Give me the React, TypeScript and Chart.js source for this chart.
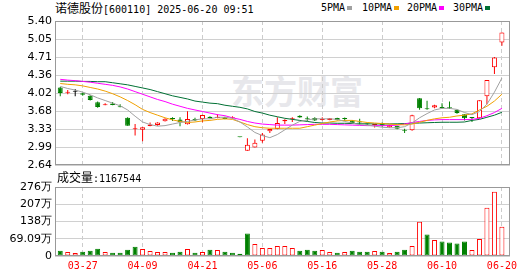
import React, { useEffect, useRef } from "react";
import { Chart, registerables } from "chart.js";

Chart.register(...registerables);

const DATES = [
  "03-24","03-25","03-26","03-27","03-28","03-31","04-01","04-02","04-03","04-07",
  "04-08","04-09","04-10","04-11","04-14","04-15","04-16","04-17","04-18","04-21",
  "04-22","04-23","04-24","04-25","04-28","04-29","04-30","05-06","05-07","05-08",
  "05-09","05-12","05-13","05-14","05-15","05-16","05-19","05-20","05-21","05-22",
  "05-23","05-26","05-27","05-28","05-29","05-30","06-03","06-04","06-05","06-06",
  "06-09","06-10","06-11","06-12","06-13","06-16","06-17","06-18","06-19","06-20",
];
const TICK_DATES = ["03-27","04-09","04-21","05-06","05-16","05-28","06-10","06-20"];

const OPEN = [
  4.13,4.03,4.05,4.02,3.97,3.845,3.79,3.825,3.77,3.55,
  3.33,3.32,3.395,3.41,3.484,3.53,3.515,3.426,3.528,3.528,
  3.572,3.547,3.56,3.541,3.185,2.918,2.982,3.109,3.293,3.337,
  3.485,3.52,3.59,3.525,3.545,3.51,3.51,3.545,3.53,3.50,
  3.48,3.44,3.41,3.45,3.37,3.40,3.31,3.31,3.923,3.725,
  3.745,3.745,3.74,3.706,3.618,3.55,3.542,3.96,4.514,4.99,
];
const HIGH = [
  4.14,4.08,4.10,4.03,3.98,3.86,3.83,3.85,3.81,3.56,
  3.43,3.37,3.46,3.465,3.54,3.56,3.56,3.674,3.55,3.61,
  3.58,3.62,3.57,3.58,3.185,3.16,3.134,3.261,3.337,3.56,
  3.52,3.56,3.60,3.575,3.56,3.56,3.545,3.55,3.555,3.51,
  3.53,3.445,3.42,3.46,3.415,3.40,3.34,3.61,3.93,3.877,
  3.80,3.83,3.86,3.71,3.62,3.56,3.884,4.27,4.71,5.18,
];
const LOW = [
  3.96,4.00,3.96,3.97,3.88,3.74,3.79,3.79,3.75,3.40,
  3.21,3.10,3.39,3.40,3.48,3.49,3.39,3.42,3.49,3.465,
  3.535,3.54,3.52,3.53,3.18,2.918,2.98,3.071,3.261,3.33,
  3.43,3.47,3.55,3.49,3.49,3.50,3.505,3.50,3.49,3.44,
  3.41,3.41,3.365,3.38,3.36,3.33,3.26,3.30,3.706,3.706,
  3.73,3.73,3.72,3.625,3.50,3.47,3.53,3.81,4.386,4.925,
];
const CLOSE = [
  4.025,4.04,4.05,3.99,3.89,3.755,3.81,3.795,3.75,3.40,
  3.34,3.37,3.42,3.458,3.534,3.525,3.47,3.528,3.50,3.604,
  3.541,3.572,3.528,3.56,3.18,3.033,3.071,3.23,3.337,3.45,
  3.51,3.53,3.555,3.52,3.50,3.515,3.54,3.51,3.525,3.445,
  3.46,3.42,3.415,3.40,3.41,3.34,3.30,3.60,3.732,3.715,
  3.79,3.735,3.73,3.643,3.542,3.545,3.884,4.27,4.704,5.18,
];

const MA5 = [
  4.15,4.11,4.08,4.04,3.99,3.93,3.88,3.83,3.78,3.70,
  3.58,3.47,3.42,3.39,3.40,3.43,3.46,3.48,3.51,3.53,
  3.53,3.56,3.56,3.54,3.47,3.375,3.27,3.21,3.17,3.23,
  3.32,3.41,3.48,3.51,3.53,3.53,3.53,3.52,3.48,3.45,
  3.42,3.41,3.39,3.37,3.36,3.36,3.38,3.45,3.55,3.63,
  3.70,3.73,3.73,3.71,3.65,3.61,3.67,3.81,4.04,4.31,
];
const MA10 = [
  4.205,4.19,4.18,4.16,4.13,4.10,4.06,4.01,3.95,3.88,
  3.80,3.71,3.65,3.60,3.55,3.51,3.48,3.46,3.47,3.49,
  3.50,3.52,3.53,3.52,3.47,3.42,3.38,3.36,3.35,3.35,
  3.35,3.35,3.35,3.38,3.41,3.44,3.47,3.49,3.50,3.50,
  3.48,3.46,3.45,3.44,3.43,3.42,3.415,3.43,3.465,3.50,
  3.53,3.55,3.56,3.585,3.60,3.625,3.70,3.77,3.87,4.00,
];
const MA20 = [
  4.285,4.27,4.26,4.245,4.23,4.21,4.19,4.17,4.14,4.10,
  4.05,4.00,3.95,3.90,3.86,3.81,3.77,3.73,3.70,3.67,
  3.64,3.61,3.59,3.55,3.52,3.48,3.45,3.43,3.42,3.41,
  3.41,3.41,3.415,3.42,3.425,3.425,3.425,3.42,3.415,3.41,
  3.405,3.40,3.40,3.40,3.40,3.41,3.43,3.46,3.48,3.50,
  3.51,3.515,3.515,3.515,3.515,3.52,3.54,3.59,3.65,3.73,
];
const MA30 = [
  4.25,4.25,4.25,4.245,4.245,4.24,4.24,4.22,4.20,4.18,
  4.15,4.12,4.09,4.05,4.01,3.97,3.94,3.91,3.87,3.85,
  3.83,3.82,3.79,3.77,3.75,3.72,3.67,3.64,3.60,3.57,
  3.54,3.52,3.50,3.48,3.46,3.45,3.45,3.445,3.445,3.44,
  3.435,3.435,3.433,3.433,3.433,3.435,3.44,3.446,3.45,3.455,
  3.46,3.465,3.465,3.465,3.47,3.50,3.52,3.56,3.60,3.655,
];

// volume in 万
const VOLUME = [
  21.4,16,12,17.4,21.4,29.5,16,13.4,13.4,25.5,
  37.5,28,20,16,16,13.4,17.4,28,13.4,16,
  25.5,24,17.4,13.4,9.4,89.8,48,32,32,40,
  40,32,21.4,25.5,21.4,24,16,13.4,16,21.4,
  17.4,17.4,20,17.4,12,17.4,25.5,40,136.7,85.7,
  64.3,57.6,53.6,49.6,57.6,24,68.3,193,257,116.7544,
];
// 1 = red (up vs previous close), 0 = green
const VOLUME_UP = [
  0,1,1,0,0,0,1,0,0,0,
  0,1,1,1,1,0,0,1,0,1,
  0,1,0,0,0,0,1,1,1,1,
  1,1,0,0,0,1,1,0,1,0,
  0,0,1,0,1,0,0,1,1,0,
  1,0,0,0,0,1,1,1,1,1,
];

const PRICE_TICKS = ["2.64","2.99","3.33","3.68","4.02","4.36","4.71","5.05","5.40"];
const PRICE_MIN = 2.64;
const PRICE_MAX = 5.40;
const VOLUME_TICKS = ["0","69.09万","138万","207万","276万"];
const VOLUME_MAX = 276.36;

const RED = "#ff0000";
const GREEN = "#008000";
const MA_COLORS = { ma5: "#a0a0a0", ma10: "#f0a000", ma20: "#ff00ff", ma30: "#007034" };

const X_MIN = -0.7;
const X_MAX = 60.08;

const framePlugin = {
  id: "frame",
  afterDraw(chart: any) {
    const { ctx, chartArea } = chart;
    const l = Math.round(chartArea.left), t = Math.round(chartArea.top);
    const r = Math.round(chartArea.right), b = Math.round(chartArea.bottom);
    ctx.save();
    ctx.strokeStyle = "#999999";
    ctx.lineWidth = 1;
    ctx.strokeRect(l + 0.5, t + 0.5, r - l - 1, b - t - 1);
    ctx.restore();
  },
};

export default function App() {
  const mainRef = useRef<HTMLCanvasElement>(null);
  const volRef = useRef<HTMLCanvasElement>(null);

  useEffect(() => {
    const tickIdx = TICK_DATES.map((d) => DATES.indexOf(d));
    const candleColor = (i: number) =>
      CLOSE[i] > OPEN[i] ? RED : CLOSE[i] < OPEN[i] ? GREEN : "#000000";
    const candleFill = (i: number) =>
      CLOSE[i] > OPEN[i] ? "#ffffff" : CLOSE[i] < OPEN[i] ? GREEN : "#000000";

    const xScale = (showLabels: boolean) => ({
      type: "linear",
      min: X_MIN,
      max: X_MAX,
      offset: false,
      afterBuildTicks: (s: any) => {
        s.ticks = tickIdx.map((v) => ({ value: v }));
      },
      afterFit: (s: any) => {
        s.height = showLabels ? 20 : 0;
      },
      ticks: {
        display: showLabels,
        autoSkip: false,
        maxRotation: 0,
        padding: 4,
        color: RED,
        font: { family: "DejaVu Sans Mono", size: 10 },
        callback: (v: number) => DATES[v] ?? "",
      },
      grid: { color: "#cccccc", drawTicks: false, offset: false },
      border: { display: false, dash: [4, 3] },
    });

    const maLine = (data: number[], color: string) => ({
      type: "line",
      data: data.map((v, i) => ({ x: i, y: v })),
      borderColor: color,
      borderWidth: 1,
      pointRadius: 0,
      tension: 0,
      fill: false,
      order: 0,
    });

    const main = new Chart(mainRef.current as HTMLCanvasElement, {
      type: "bar",
      data: {
        datasets: [
          maLine(MA5, MA_COLORS.ma5),
          maLine(MA10, MA_COLORS.ma10),
          maLine(MA20, MA_COLORS.ma20),
          maLine(MA30, MA_COLORS.ma30),
          {
            type: "bar",
            data: OPEN.map((o, i) => ({ x: i, y: [Math.min(o, CLOSE[i]), Math.max(o, CLOSE[i])] })),
            backgroundColor: OPEN.map((_, i) => candleFill(i)),
            borderColor: OPEN.map((_, i) => candleColor(i)),
            borderWidth: 1,
            borderSkipped: false,
            barThickness: 5,
            minBarLength: 1,
            inflateAmount: 0,
            grouped: false,
            order: 1,
          },
          {
            type: "bar",
            data: LOW.map((l, i) => ({ x: i, y: [l, HIGH[i]] })),
            backgroundColor: OPEN.map((_, i) => candleColor(i)),
            borderWidth: 0,
            barThickness: 1,
            inflateAmount: 0,
            grouped: false,
            order: 2,
          },
        ] as any,
      },
      options: {
        animation: false,
        responsive: false,
        devicePixelRatio: 1,
        events: [],
        layout: { padding: { top: 21, right: 20, bottom: 9, left: 0 } },
        plugins: { legend: { display: false }, tooltip: { enabled: false } },
        scales: {
          x: xScale(false) as any,
          y: {
            type: "linear",
            min: PRICE_MIN,
            max: PRICE_MAX,
            beginAtZero: false,
            afterBuildTicks: (s: any) => {
              const n = PRICE_TICKS.length - 1;
              s.ticks = PRICE_TICKS.map((_, k) => ({ value: PRICE_MIN + (k * (PRICE_MAX - PRICE_MIN)) / n }));
            },
            afterFit: (s: any) => {
              s.width = 55;
            },
            ticks: {
              autoSkip: false,
              padding: 3,
              color: "#000000",
              font: { family: "DejaVu Sans", size: 11 },
              callback: (_v: any, i: number) => PRICE_TICKS[i],
            },
            grid: { color: "#d0d0d0", drawTicks: false },
            border: { display: false },
          } as any,
        },
      },
      plugins: [framePlugin],
    });

    const vol = new Chart(volRef.current as HTMLCanvasElement, {
      type: "bar",
      data: {
        datasets: [
          {
            data: VOLUME.map((v, i) => ({ x: i, y: v })),
            backgroundColor: VOLUME_UP.map((u) => (u ? "#ffffff" : GREEN)),
            borderColor: VOLUME_UP.map((u) => (u ? RED : GREEN)),
            borderWidth: 1,
            borderSkipped: false,
            barThickness: 5,
            inflateAmount: 0,
            grouped: false,
          },
        ] as any,
      },
      options: {
        animation: false,
        responsive: false,
        devicePixelRatio: 1,
        events: [],
        layout: { padding: { top: 15, right: 20, bottom: 0, left: 0 } },
        plugins: { legend: { display: false }, tooltip: { enabled: false } },
        scales: {
          x: xScale(true) as any,
          y: {
            type: "linear",
            min: 0,
            max: VOLUME_MAX,
            afterBuildTicks: (s: any) => {
              const n = VOLUME_TICKS.length - 1;
              s.ticks = VOLUME_TICKS.map((_, k) => ({ value: (k * VOLUME_MAX) / n }));
            },
            afterFit: (s: any) => {
              s.width = 55;
            },
            ticks: {
              autoSkip: false,
              padding: 3,
              color: "#000000",
              font: { family: "DejaVu Sans", size: 11 },
              callback: (_v: any, i: number) => VOLUME_TICKS[i],
            },
            grid: { color: "#d0d0d0", drawTicks: false },
            border: { display: false },
          } as any,
        },
      },
      plugins: [framePlugin],
    });

    return () => {
      main.destroy();
      vol.destroy();
    };
  }, []);

  const mono = "'DejaVu Sans Mono', monospace";
  const cjk = "'Noto Sans CJK SC', sans-serif";
  const legend = [
    { label: "5PMA", color: MA_COLORS.ma5, x: 321 },
    { label: "10PMA", color: MA_COLORS.ma10, x: 362 },
    { label: "20PMA", color: MA_COLORS.ma20, x: 407 },
    { label: "30PMA", color: MA_COLORS.ma30, x: 453 },
  ];

  return (
    <div style={{ position: "fixed", left: 0, top: 0, width: 530, height: 276, background: "#ffffff", overflow: "hidden" }}>
      <div style={{ position: "absolute", left: 231, top: 74, fontFamily: cjk, fontSize: 33, fontWeight: 700, lineHeight: "33px", color: "#e7e7eb", whiteSpace: "nowrap" }}>
        东方财富
      </div>
      <div style={{ position: "absolute", left: 55, top: 1, lineHeight: "14px", whiteSpace: "nowrap", color: "#000" }}>
        <span style={{ fontFamily: cjk, fontSize: 12 }}>诺德股份</span>
        <span style={{ fontFamily: mono, fontSize: 10 }}>[600110] 2025-06-20 09:51</span>
      </div>
      {legend.map((l) => (
        <div key={l.label} style={{ position: "absolute", left: l.x, top: 1, lineHeight: "14px", whiteSpace: "nowrap", fontFamily: mono, fontSize: 10, color: "#000" }}>
          {l.label}
          <span style={{ display: "inline-block", width: 5, height: 4, marginLeft: 2, background: l.color, verticalAlign: "middle" }} />
        </div>
      ))}
      <canvas ref={mainRef} width={530} height={175} style={{ position: "absolute", left: 0, top: 0, width: 530, height: 175 }} />
      <canvas ref={volRef} width={530} height={104} style={{ position: "absolute", left: 0, top: 172, width: 530, height: 104 }} />
      <div style={{ position: "absolute", left: 57, top: 170, lineHeight: "14px", whiteSpace: "nowrap", color: "#000" }}>
        <span style={{ fontFamily: cjk, fontSize: 12 }}>成交量</span>
        <span style={{ fontFamily: mono, fontSize: 10 }}>:1167544</span>
      </div>
    </div>
  );
}
